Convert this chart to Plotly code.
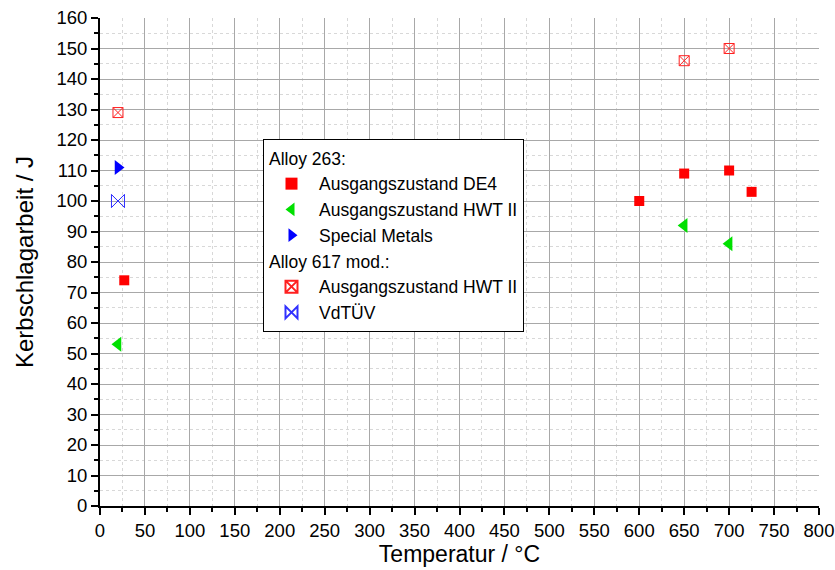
import plotly.graph_objects as go

de4_x = [27, 600, 650, 700, 725]
de4_y = [74, 100, 109, 110, 103]
hwt_x = [20, 650, 700]
hwt_y = [53, 92, 86]
sm_x = [20]
sm_y = [111]
a617_x = [20, 650, 700]
a617_y = [129, 146, 150]
vd_x = [20]
vd_y = [100]

FONT = "Liberation Sans, Arial"

fig = go.Figure()
fig.add_trace(go.Scatter(x=de4_x, y=de4_y, mode="markers", name="Ausgangszustand DE4",
                         legendgroup="g1", legendgrouptitle_text="Alloy 263:",
                         marker=dict(symbol="square", size=10, color="#ff0000")))
fig.add_trace(go.Scatter(x=hwt_x, y=hwt_y, mode="markers", name="Ausgangszustand HWT II",
                         legendgroup="g1",
                         marker=dict(symbol="triangle-left", size=13, color="#00e000")))
fig.add_trace(go.Scatter(x=sm_x, y=sm_y, mode="markers", name="Special Metals",
                         legendgroup="g1",
                         marker=dict(symbol="triangle-right", size=13, color="#0000ff")))
fig.add_trace(go.Scatter(x=a617_x, y=a617_y, mode="markers", name="Ausgangszustand HWT II",
                         legendgroup="g2", legendgrouptitle_text="Alloy 617 mod.:",
                         marker=dict(symbol="square-x-open", size=10, color="#ff2020",
                                     line=dict(width=1))))
fig.add_trace(go.Scatter(x=vd_x, y=vd_y, mode="markers", name="VdTÜV",
                         legendgroup="g2",
                         marker=dict(symbol="bowtie-open", size=13, color="#3030ff",
                                     line=dict(width=1))))
fig.add_trace(go.Scatter(x=vd_x, y=vd_y, mode="markers", showlegend=False,
                         legendgroup="g2",
                         marker=dict(symbol="x-thin-open", size=13, color="#3030ff",
                                     line=dict(width=1))))

axis_common = dict(
    showline=True, linecolor="black", linewidth=2, mirror=False,
    ticks="outside", ticklen=7, tickwidth=2, tickcolor="black",
    showgrid=True, gridcolor="#a8a8a8", gridwidth=1,
    zeroline=False, automargin=False,
    tickfont=dict(family=FONT, size=18.5, color="black"),
)
minor_common = dict(ticks="outside", ticklen=4, tickwidth=2, tickcolor="black",
                    showgrid=True, gridcolor="#d8d8d8", griddash="3px,3px", gridwidth=1)
fig.update_xaxes(**axis_common, range=[0, 800], dtick=50,
                 minor=dict(dtick=25, **minor_common),
                 title=dict(text="Temperatur / °C", font=dict(family=FONT, size=23, color="black"), standoff=4))
fig.update_yaxes(**axis_common, range=[0, 160], dtick=10,
                 minor=dict(dtick=5, **minor_common),
                 title=dict(text="Kerbschlagarbeit / J", font=dict(family=FONT, size=24, color="black"), standoff=16))

fig.update_layout(
    width=835, height=570,
    margin=dict(l=100, r=16, t=18, b=64),
    plot_bgcolor="white", paper_bgcolor="white",
    legend=dict(x=0.2267, y=0.752, xanchor="left", yanchor="top",
                bordercolor="black", borderwidth=1, bgcolor="white",
                font=dict(family=FONT, size=17.5, color="black"),
                grouptitlefont=dict(family=FONT, size=17.5, color="black"),
                tracegroupgap=0, itemsizing="constant", itemwidth=45),
)
fig.write_html("out.html")
